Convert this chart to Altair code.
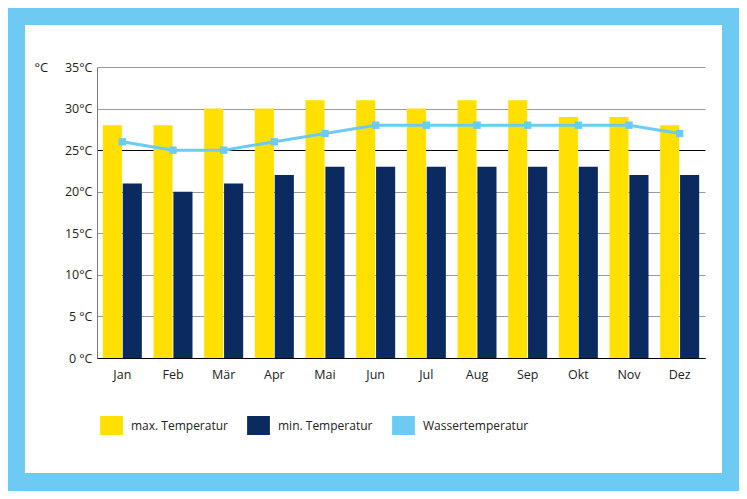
import altair as alt
import pandas as pd

months = ["Jan", "Feb", "Mär", "Apr", "Mai", "Jun", "Jul", "Aug", "Sep", "Okt", "Nov", "Dez"]
max_temp = [28, 28, 30, 30, 31, 31, 30, 31, 31, 29, 29, 28]
min_temp = [21, 20, 21, 22, 23, 23, 23, 23, 23, 23, 22, 22]
water_temp = [26, 25, 25, 26, 27, 28, 28, 28, 28, 28, 28, 27]
series_names = ["max. Temperatur", "min. Temperatur", "Wassertemperatur"]
series_colors = ["#FFE000", "#0B2A5F", "#6DCBF3"]
y_ticks = [0, 5, 10, 15, 20, 25, 30, 35]

FONT = "Open Sans"
FRAME = "#6DCBF3"

bars_df = pd.DataFrame({
    "Monat": months * 2,
    "Serie": [series_names[0]] * len(months) + [series_names[1]] * len(months),
    "Wert": max_temp + min_temp,
})
water_df = pd.DataFrame({"Monat": months, "Wert": water_temp})
frame_df = pd.DataFrame({"k": [0]})

x_scale = alt.Scale(domain=months, paddingInner=0.23, paddingOuter=0.115)
y_scale = alt.Scale(domain=[0, 35], nice=False)

x_axis = alt.Axis(title=None, ticks=False, grid=False, domainColor="#000000", domainWidth=1,
                  labelPadding=10, labelFontSize=12.5, labelColor="#222222", labelFont=FONT, labelAngle=0)
y_axis = alt.Axis(values=y_ticks, ticks=False, grid=True,
                  gridColor=alt.condition("datum.value == 25 || datum.value == 0", alt.value("#000000"), alt.value("#9a9a9a")),
                  gridWidth=1, domainColor="#7a7a7a", labelPadding=5, labelFontSize=12.5,
                  labelColor="#222222", labelFont=FONT,
                  labelExpr="datum.value < 10 ? datum.value + ' °C' : datum.value + '°C'",
                  title="°C", titleAngle=0, titleX=-63, titleY=0, titleAlign="left",
                  titleBaseline="middle", titleFontWeight="normal", titleFontSize=13,
                  titleColor="#222222", titleFont=FONT)

bars = alt.Chart(bars_df).mark_bar().encode(
    x=alt.X("Monat:N", scale=x_scale, axis=x_axis, sort=months),
    xOffset=alt.XOffset("Serie:N", scale=alt.Scale(domain=series_names[:2], paddingInner=0.04), sort=series_names[:2]),
    y=alt.Y("Wert:Q", scale=y_scale, axis=y_axis),
    color=alt.Color("Serie:N", scale=alt.Scale(domain=series_names, range=series_colors),
                    legend=alt.Legend(title=None, orient="none", legendX=5, legendY=349,
                                      direction="horizontal", columns=3,
                                      symbolType="M-1.2,-1H1.2V1H-1.2Z", symbolSize=361,
                                      symbolStrokeWidth=0, symbolOpacity=1,
                                      labelFontSize=12, labelFont=FONT, labelColor="#222222",
                                      labelOffset=10, columnPadding=19)),
)

line = alt.Chart(water_df).mark_line(color=series_colors[2], strokeWidth=3).encode(
    x=alt.X("Monat:N", scale=x_scale, sort=months),
    y=alt.Y("Wert:Q", scale=y_scale),
)
pts = alt.Chart(water_df).mark_square(color=series_colors[2], size=55, opacity=1).encode(
    x=alt.X("Monat:N", scale=x_scale, sort=months),
    y=alt.Y("Wert:Q", scale=y_scale),
)

frame = alt.Chart(frame_df).mark_rect(filled=False, stroke=FRAME, strokeWidth=80).encode(
    x=alt.value(-112), x2=alt.value(665), y=alt.value(-82), y2=alt.value(446)
)

chart = alt.layer(bars, line, pts, frame).properties(
    width=608, height=291,
    autosize=alt.AutoSizeParams(type="none"),
    padding={"left": 89, "top": 59, "right": 34, "bottom": 133},
    background="white",
).configure_view(stroke=None).configure_legend(padding=0)

chart.save("out.html", embed_options={"renderer": "svg", "actions": False})
